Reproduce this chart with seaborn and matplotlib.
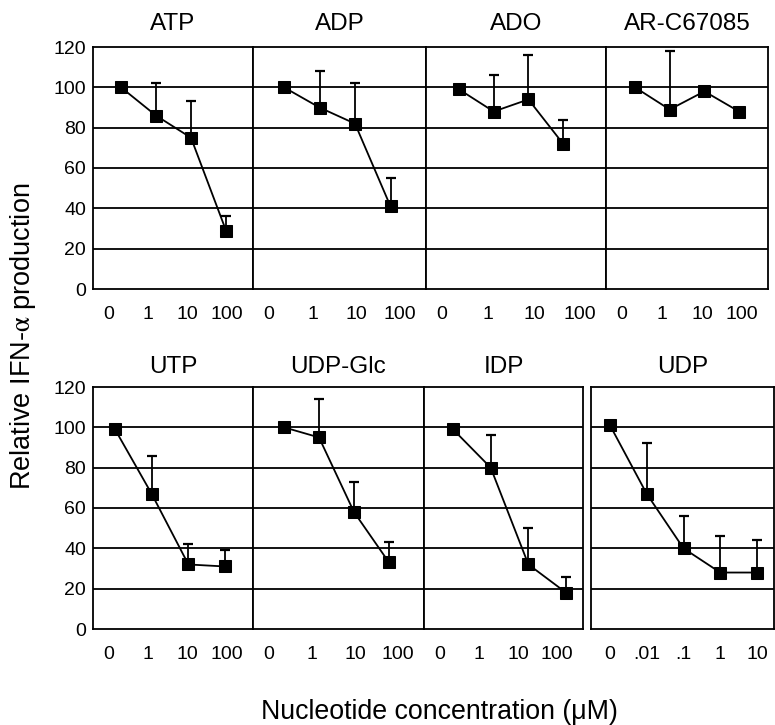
import numpy as np
import pandas as pd
import seaborn as sns
import matplotlib.pyplot as plt

# panel titles and concentration tick labels
top_names = ["ATP", "ADP", "ADO", "AR-C67085"]
bottom_names = ["UTP", "UDP-Glc", "IDP", "UDP"]
conc_labels = ["0", "1", "10", "100"]
udp_labels = ["0", ".01", ".1", "1", "10"]

# relative IFN-alpha production (mean) and upper error (SD)
atp_mean = [100, 86, 75, 29]
atp_err = [0, 16, 18, 7]
adp_mean = [100, 90, 82, 41]
adp_err = [0, 18, 20, 14]
ado_mean = [99, 88, 94, 72]
ado_err = [0, 18, 22, 12]
arc_mean = [100, 89, 98, 88]
arc_err = [0, 29, 0, 1]
utp_mean = [99, 67, 32, 31]
utp_err = [0, 19, 10, 8]
udpglc_mean = [100, 95, 58, 33]
udpglc_err = [0, 19, 15, 10]
idp_mean = [99, 80, 32, 18]
idp_err = [0, 16, 18, 8]
udp_mean = [101, 67, 40, 28, 28]
udp_err = [0, 25, 16, 18, 16]

panels = {
    "ATP": (atp_mean, atp_err, conc_labels),
    "ADP": (adp_mean, adp_err, conc_labels),
    "ADO": (ado_mean, ado_err, conc_labels),
    "AR-C67085": (arc_mean, arc_err, conc_labels),
    "UTP": (utp_mean, utp_err, conc_labels),
    "UDP-Glc": (udpglc_mean, udpglc_err, conc_labels),
    "IDP": (idp_mean, idp_err, conc_labels),
    "UDP": (udp_mean, udp_err, udp_labels),
}

sns.set_theme(style="white")
plt.rcParams["font.family"] = ["Liberation Sans", "DejaVu Sans"]
plt.rcParams["mathtext.fontset"] = "stix"

W, H = 775, 725
fig = plt.figure(figsize=(W / 100, H / 100), dpi=100)

# layout in pixels: (left, right, first point x, point spacing)
top_layout = [(93, 253, 121, 35), (253, 426, 284, 35.5),
              (426, 606, 459, 34.7), (606, 768, 635, 34.7)]
bottom_layout = [(93, 253, 115, 36.7), (253, 424, 284, 35),
                 (424, 583, 453, 37.7), (591, 774, 610, 36.75)]
rows = [(top_names, top_layout, 47, 289, 12), (bottom_names, bottom_layout, 387, 629, 10)]

for names, layout, ytop, ybot, tpad in rows:
    for i, (name, (L, R, x0, s)) in enumerate(zip(names, layout)):
        mean, err, labels = panels[name]
        n = len(mean)
        ax = fig.add_axes([L / W, 1 - ybot / H, (R - L) / W, (ybot - ytop) / H])
        df = pd.DataFrame({"pos": np.arange(n), "value": mean})
        ax.errorbar(df["pos"], df["value"], yerr=[np.zeros(n), err], fmt="none",
                    ecolor="black", elinewidth=1.3, capsize=3.5, capthick=1.6, zorder=3)
        sns.lineplot(data=df, x="pos", y="value", ax=ax, color="black", lw=1.3,
                     marker="s", markersize=9, markeredgecolor="black", zorder=4)
        ax.set_xlim((L - x0) / s, (R - x0) / s)
        ax.set_ylim(0, 120)
        # tick labels
        if n == 4:
            px = np.linspace(L + 16, R - 26, n)
            ax.set_xticks((px - x0) / s)
        else:
            ax.set_xticks(np.arange(n))
        ax.set_xticklabels(labels, fontsize=14)
        ax.set_yticks([0, 20, 40, 60, 80, 100, 120])
        for yv in [20, 40, 60, 80, 100]:
            ax.axhline(yv, color="black", lw=1.3, zorder=1)
        if i == 0:
            ax.set_yticklabels([0, 20, 40, 60, 80, 100, 120], fontsize=14)
        else:
            ax.set_yticklabels([])
        ax.tick_params(axis="both", length=0, colors="black")
        ax.tick_params(axis="x", pad=12)
        ax.tick_params(axis="y", pad=5)
        ax.set_xlabel("")
        ax.set_ylabel("")
        ax.set_title(name, fontsize=17.5, pad=tpad, color="black")
        for sp in ax.spines.values():
            sp.set_color("black")
            sp.set_linewidth(1.3)
        ax.grid(False)

fig.text(23 / W, 1 - 336 / H, r"Relative IFN-$\mathrm{\alpha}$ production", rotation=90,
         ha="center", va="center", fontsize=19.5, color="black")
fig.text(439 / W, 1 - 719 / H, "Nucleotide concentration (\u03bcM)",
         ha="center", va="baseline", fontsize=19.3, color="black")

fig.savefig("out.png", dpi=100, facecolor="white")
